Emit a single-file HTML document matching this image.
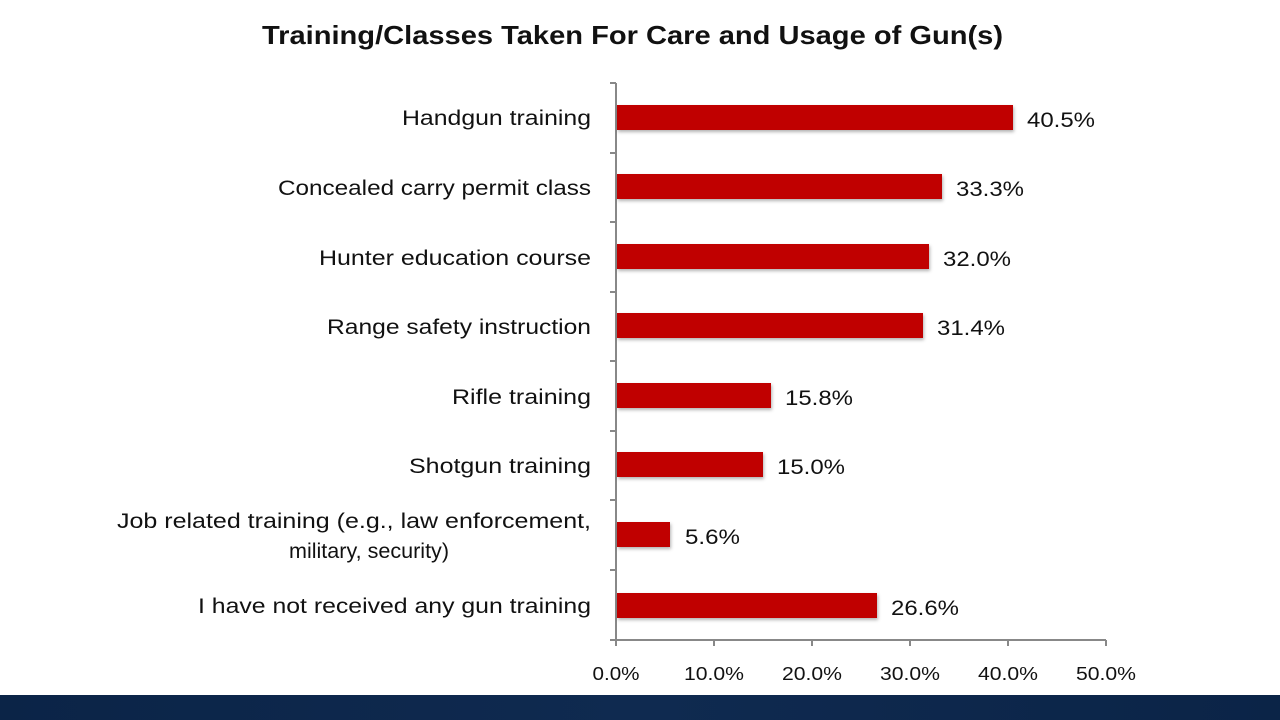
<!DOCTYPE html>
<html><head><meta charset="utf-8"><style>
html,body{margin:0;padding:0;background:#fff;}
svg{display:block;font-family:"Liberation Sans",sans-serif;}
</style></head><body>
<svg width="1280" height="720" viewBox="0 0 1280 720">
<defs>
<linearGradient id="band" x1="0" x2="1" y1="0" y2="0">
<stop offset="0" stop-color="#0b2447"/><stop offset="0.5" stop-color="#0f2a50"/><stop offset="1" stop-color="#0b2447"/>
</linearGradient>
<filter id="sh" x="-5%" y="-30%" width="110%" height="160%"><feDropShadow dx="1" dy="2" stdDeviation="1.5" flood-color="#000" flood-opacity="0.3"/></filter>
</defs>
<rect x="0" y="695" width="1280" height="25" fill="url(#band)"/>
<text x="262" y="44" font-size="26" font-weight="bold" fill="#111" textLength="741" lengthAdjust="spacingAndGlyphs">Training/Classes Taken For Care and Usage of Gun(s)</text>
<g stroke="#888" stroke-width="2">
<line x1="616" y1="83" x2="616" y2="640"/>
<line x1="610" y1="640" x2="1106" y2="640"/>
<line x1="610" y1="83" x2="616" y2="83"/>
<line x1="610" y1="153" x2="616" y2="153"/>
<line x1="610" y1="222" x2="616" y2="222"/>
<line x1="610" y1="292" x2="616" y2="292"/>
<line x1="610" y1="361" x2="616" y2="361"/>
<line x1="610" y1="431" x2="616" y2="431"/>
<line x1="610" y1="500" x2="616" y2="500"/>
<line x1="610" y1="570" x2="616" y2="570"/>
<line x1="616" y1="640" x2="616" y2="646"/>
<line x1="714" y1="640" x2="714" y2="646"/>
<line x1="812" y1="640" x2="812" y2="646"/>
<line x1="910" y1="640" x2="910" y2="646"/>
<line x1="1008" y1="640" x2="1008" y2="646"/>
<line x1="1106" y1="640" x2="1106" y2="646"/>
</g>
<g fill="#c00000" filter="url(#sh)">
<rect x="617" y="105" width="396" height="25"/>
<rect x="617" y="174" width="325" height="25"/>
<rect x="617" y="244" width="312" height="25"/>
<rect x="617" y="313" width="306" height="25"/>
<rect x="617" y="383" width="154" height="25"/>
<rect x="617" y="452" width="146" height="25"/>
<rect x="617" y="522" width="53" height="25"/>
<rect x="617" y="593" width="260" height="25"/>
</g>
<g font-size="21" fill="#111">
<text x="1027" y="127" textLength="68" lengthAdjust="spacingAndGlyphs">40.5%</text>
<text x="956" y="196" textLength="68" lengthAdjust="spacingAndGlyphs">33.3%</text>
<text x="943" y="266" textLength="68" lengthAdjust="spacingAndGlyphs">32.0%</text>
<text x="937" y="335" textLength="68" lengthAdjust="spacingAndGlyphs">31.4%</text>
<text x="785" y="405" textLength="68" lengthAdjust="spacingAndGlyphs">15.8%</text>
<text x="777" y="474" textLength="68" lengthAdjust="spacingAndGlyphs">15.0%</text>
<text x="685" y="544" textLength="55" lengthAdjust="spacingAndGlyphs">5.6%</text>
<text x="891" y="615" textLength="68" lengthAdjust="spacingAndGlyphs">26.6%</text>
</g>
<g font-size="21" fill="#111" text-anchor="end">
<text x="591" y="125" textLength="189" lengthAdjust="spacingAndGlyphs">Handgun training</text>
<text x="591" y="195" textLength="313" lengthAdjust="spacingAndGlyphs">Concealed carry permit class</text>
<text x="591" y="265" textLength="272" lengthAdjust="spacingAndGlyphs">Hunter education course</text>
<text x="591" y="334" textLength="264" lengthAdjust="spacingAndGlyphs">Range safety instruction</text>
<text x="591" y="404" textLength="139" lengthAdjust="spacingAndGlyphs">Rifle training</text>
<text x="591" y="473" textLength="182" lengthAdjust="spacingAndGlyphs">Shotgun training</text>
<text x="591" y="528" textLength="474" lengthAdjust="spacingAndGlyphs">Job related training (e.g., law enforcement,</text>
<text x="449" y="558" textLength="160" lengthAdjust="spacingAndGlyphs">military, security)</text>
<text x="591" y="613" textLength="393" lengthAdjust="spacingAndGlyphs">I have not received any gun training</text>
</g>
<g font-size="18" fill="#111" text-anchor="middle">
<text x="616" y="680" textLength="47" lengthAdjust="spacingAndGlyphs">0.0%</text>
<text x="714" y="680" textLength="60" lengthAdjust="spacingAndGlyphs">10.0%</text>
<text x="812" y="680" textLength="60" lengthAdjust="spacingAndGlyphs">20.0%</text>
<text x="910" y="680" textLength="60" lengthAdjust="spacingAndGlyphs">30.0%</text>
<text x="1008" y="680" textLength="60" lengthAdjust="spacingAndGlyphs">40.0%</text>
<text x="1106" y="680" textLength="60" lengthAdjust="spacingAndGlyphs">50.0%</text>
</g>
</svg>
</body></html>
